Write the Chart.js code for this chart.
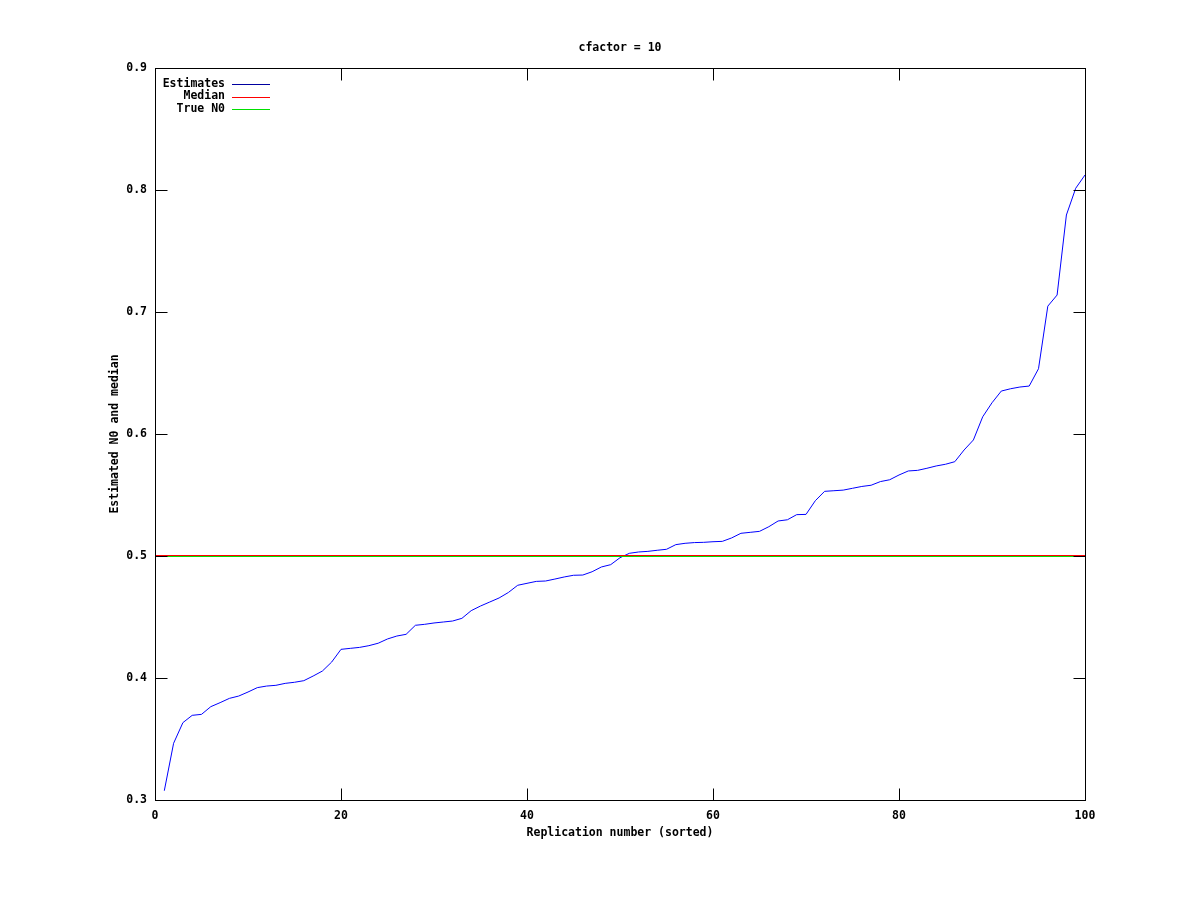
<!DOCTYPE html>
<html>
<head>
<meta charset="utf-8">
<title>cfactor = 10</title>
<script src="https://cdn.jsdelivr.net/npm/chart.js@4.4.1/dist/chart.umd.min.js"></script>
<style>
    html, body { margin: 0; padding: 0; background: #fff; }
    #wrap { width: 1200px; height: 900px; }
</style>
</head>
<body>
<div id="wrap"><canvas id="plot" width="1200" height="900"></canvas></div>
<script>
// replication number (sorted)
const replication = [
    1, 2, 3, 4, 5, 6, 7, 8, 9, 10,
    11, 12, 13, 14, 15, 16, 17, 18, 19, 20,
    21, 22, 23, 24, 25, 26, 27, 28, 29, 30,
    31, 32, 33, 34, 35, 36, 37, 38, 39, 40,
    41, 42, 43, 44, 45, 46, 47, 48, 49, 50,
    51, 52, 53, 54, 55, 56, 57, 58, 59, 60,
    61, 62, 63, 64, 65, 66, 67, 68, 69, 70,
    71, 72, 73, 74, 75, 76, 77, 78, 79, 80,
    81, 82, 83, 84, 85, 86, 87, 88, 89, 90,
    91, 92, 93, 94, 95, 96, 97, 98, 99, 100
];

// estimated N0
const estimates = [
    0.3076, 0.3465, 0.3634, 0.3694, 0.3702, 0.3765, 0.3798, 0.3833, 0.3852, 0.3885,
    0.3921, 0.3934, 0.3940, 0.3956, 0.3965, 0.3978, 0.4016, 0.4057, 0.4131, 0.4235,
    0.4243, 0.4251, 0.4265, 0.4285, 0.4320, 0.4344, 0.4358, 0.4432, 0.4440, 0.4451,
    0.4459, 0.4467, 0.4489, 0.4552, 0.4590, 0.4623, 0.4656, 0.4701, 0.4760, 0.4776,
    0.4792, 0.4795, 0.4811, 0.4828, 0.4842, 0.4844, 0.4871, 0.4910, 0.4929, 0.4986,
    0.5022, 0.5033, 0.5038, 0.5047, 0.5055, 0.5093, 0.5104, 0.5110, 0.5112, 0.5117,
    0.5120, 0.5148, 0.5186, 0.5194, 0.5202, 0.5240, 0.5287, 0.5297, 0.5339, 0.5341,
    0.5453, 0.5530, 0.5535, 0.5540, 0.5555, 0.5570, 0.5580, 0.5610, 0.5625, 0.5664,
    0.5697, 0.5702, 0.5719, 0.5738, 0.5752, 0.5773, 0.5869, 0.5951, 0.6141, 0.6256,
    0.6352, 0.6371, 0.6385, 0.6393, 0.6535, 0.7048, 0.7139, 0.7795, 0.8014, 0.8123
];

const medianValue = 0.5004;
const trueN0 = 0.5;

const xTicks = [0, 20, 40, 60, 80, 100];
const yTicks = [0.3, 0.4, 0.5, 0.6, 0.7, 0.8, 0.9];

const FONT = '"DejaVu Sans Mono", "Liberation Mono", monospace';
const legendSwatch = ['#0000a0', '#ff0000', '#00e000'];

// gnuplot-style frame, inward ticks on all sides, titles and key
const gnuFrame = {
    id: 'gnuFrame',
    afterDraw(chart) {
        const ctx = chart.ctx;
        const a = chart.chartArea;
        const xs = chart.scales.x, ys = chart.scales.y;
        const L = Math.round(a.left) + 0.5, R = Math.round(a.right) + 0.5;
        const T = Math.round(a.top) + 0.5, B = Math.round(a.bottom) + 0.5;
        const tl = 12;

        ctx.save();
        ctx.strokeStyle = '#000';
        ctx.lineWidth = 1;
        ctx.strokeRect(L, T, R - L, B - T);

        ctx.beginPath();
        yTicks.forEach(v => {
            const p = Math.round(ys.getPixelForValue(v)) + 0.5;
            ctx.moveTo(L, p); ctx.lineTo(L + tl, p);
            ctx.moveTo(R, p); ctx.lineTo(R - tl, p);
        });
        xTicks.forEach(v => {
            const p = Math.round(xs.getPixelForValue(v)) + 0.5;
            ctx.moveTo(p, B); ctx.lineTo(p, B - tl);
            ctx.moveTo(p, T); ctx.lineTo(p, T + tl);
        });
        ctx.stroke();

        ctx.fillStyle = '#000';
        ctx.font = 'bold 11.5px ' + FONT;
        ctx.textBaseline = 'middle';
        ctx.textAlign = 'center';
        const cx = (a.left + a.right) / 2;
        const opts = chart.options.plugins.gnuFrame;
        ctx.fillText(opts.title, cx, 48);
        ctx.fillText(opts.xTitle, cx, 833);

        ctx.save();
        ctx.translate(115, (a.top + a.bottom) / 2);
        ctx.rotate(-Math.PI / 2);
        ctx.fillText(opts.yTitle, 0, 0);
        ctx.restore();

        // key, in dataset order
        const rows = ['Estimates', 'Median', 'True N0'];
        ctx.textAlign = 'right';
        rows.forEach((label, i) => {
            const y = 84 + i * 12.5;
            ctx.fillStyle = '#000';
            ctx.fillText(label, 225, y);
            ctx.strokeStyle = legendSwatch[i];
            ctx.beginPath();
            ctx.moveTo(232, Math.round(y) + 0.5);
            ctx.lineTo(270, Math.round(y) + 0.5);
            ctx.stroke();
        });
        ctx.restore();
    }
};

const ctx = document.getElementById('plot').getContext('2d');

new Chart(ctx, {
    type: 'line',
    data: {
        datasets: [{
            label: 'Estimates',
            data: replication.map((r, i) => ({ x: r, y: estimates[i] })),
            borderColor: '#0000ff',
            borderWidth: 1,
            pointRadius: 0,
            tension: 0,
            order: 3
        }, {
            label: 'Median',
            data: [{ x: 0, y: medianValue }, { x: 100, y: medianValue }],
            borderColor: '#ff0000',
            borderWidth: 1,
            pointRadius: 0,
            order: 1
        }, {
            label: 'True N0',
            data: [{ x: 0, y: trueN0 }, { x: 100, y: trueN0 }],
            borderColor: '#00e000',
            borderWidth: 2,
            pointRadius: 0,
            order: 2
        }]
    },
    options: {
        responsive: false,
        animation: false,
        events: [],
        layout: { padding: { left: 0, top: 68, right: 115, bottom: 0 } },
        plugins: {
            legend: { display: false },
            tooltip: { enabled: false },
            gnuFrame: {
                title: 'cfactor = 10',
                xTitle: 'Replication number (sorted)',
                yTitle: 'Estimated N0 and median'
            }
        },
        scales: {
            x: {
                type: 'linear',
                min: 0,
                max: 100,
                afterFit(scale) { scale.height = 100; },
                afterBuildTicks(scale) { scale.ticks = xTicks.map(v => ({ value: v })); },
                grid: { display: false, drawTicks: false },
                border: { display: false },
                ticks: {
                    color: '#000',
                    padding: 9,
                    maxRotation: 0,
                    font: { family: FONT, size: 11.5, weight: 'bold' },
                    callback: v => String(v)
                }
            },
            y: {
                min: 0.3,
                max: 0.9,
                afterFit(scale) { scale.width = 155; },
                afterBuildTicks(scale) { scale.ticks = yTicks.map(v => ({ value: v })); },
                grid: { display: false, drawTicks: false },
                border: { display: false },
                ticks: {
                    color: '#000',
                    padding: 8,
                    font: { family: FONT, size: 11.5, weight: 'bold' },
                    callback: v => v.toFixed(1)
                }
            }
        }
    },
    plugins: [gnuFrame]
});
</script>
</body>
</html>
